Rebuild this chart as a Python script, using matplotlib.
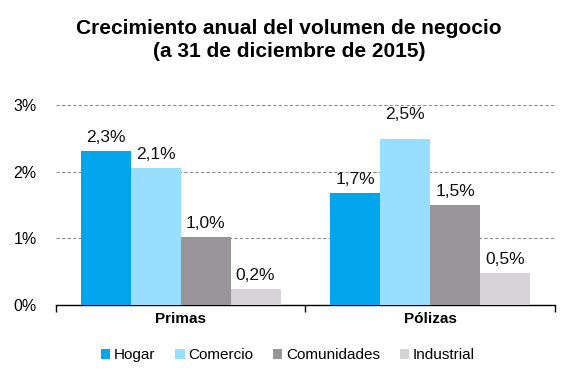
import matplotlib.pyplot as plt
import numpy as np

plt.rcParams['font.family'] = ['Liberation Sans', 'DejaVu Sans']

categorias = ['Primas', 'Pólizas']
series = ['Hogar', 'Comercio', 'Comunidades', 'Industrial']
hogar = [2.31, 1.68]
comercio = [2.05, 2.49]
comunidades = [1.02, 1.50]
industrial = [0.24, 0.48]
etiquetas = [['2,3%', '1,7%'], ['2,1%', '2,5%'], ['1,0%', '1,5%'], ['0,2%', '0,5%']]
colores = ['#00a5ec', '#97deff', '#979597', '#d5d3d6']

valores = [hogar, comercio, comunidades, industrial]

fig = plt.figure(figsize=(5.67, 3.78), dpi=100)
ax = fig.add_axes([0.0988, 0.193, 0.880, 0.529])

x = np.arange(len(categorias))
w = 0.2
for i, (nombre, vals) in enumerate(zip(series, valores)):
    pos = x - 0.3 + i * w
    ax.bar(pos, vals, width=w, color=colores[i], label=nombre, zorder=3)
    for p, v, t in zip(pos, vals, etiquetas[i]):
        off = 25 if t == '2,5%' else 14
        ax.annotate(t, (p, v), xytext=(0, off), textcoords='offset pixels',
                    ha='center', va='center', fontsize=12.5, color='#111111')

ax.set_xlim(-0.5, 1.5)
ax.set_ylim(0, 3)
ax.set_yticks([0, 1, 2, 3])
ax.set_yticklabels(['0%', '1%', '2%', '3%'], fontsize=11.5)
ax.tick_params(axis='y', length=0, pad=14)
ax.yaxis.grid(True, linestyle=(0, (3, 2)), color='#8c8c8c', linewidth=0.8, zorder=0)

ax.set_xticks(x)
ax.set_xticklabels(categorias, fontsize=11, fontweight='bold')
ax.set_xticks([-0.5, 0.5, 1.5], minor=True)
ax.tick_params(axis='x', which='major', length=0, pad=5)
ax.tick_params(axis='x', which='minor', length=5, direction='out', width=1)

for s in ['top', 'right', 'left']:
    ax.spines[s].set_visible(False)
ax.spines['bottom'].set_color('black')
ax.spines['bottom'].set_linewidth(1)

fig.suptitle('Crecimiento anual del volumen de negocio\n(a 31 de diciembre de 2015)',
             fontsize=15, fontweight='bold', x=0.51, y=0.95, va='top', linespacing=1.3)

fig.legend(loc='lower center', bbox_to_anchor=(0.508, 0.005), ncol=4, frameon=False,
           fontsize=11, handlelength=0.6, handleheight=0.6, handletextpad=0.25,
           columnspacing=1.3)

fig.savefig('out.png', dpi=100)
